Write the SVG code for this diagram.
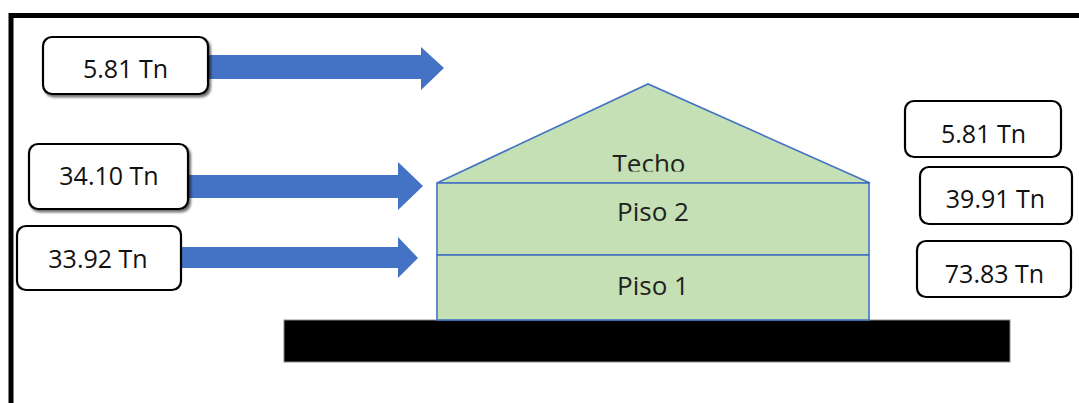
<svg xmlns="http://www.w3.org/2000/svg" width="1079" height="403" viewBox="0 0 1079 403">
  <style>
    .lbl { font-family: "Open Sans", "Noto Sans", sans-serif; font-size: 25px; fill: #111; text-anchor: middle; }
    .floor { font-family: "Open Sans", "Noto Sans", sans-serif; font-size: 26px; fill: #222; text-anchor: middle; }
    .box { fill: #fff; stroke: #000; stroke-width: 2.2; }
    .part { fill: #c5e0b4; stroke: #4472c4; stroke-width: 1.6; }
    .force { fill: #4472c4; }
  </style>
  <defs>
    <filter id="shadow" x="-10%" y="-10%" width="130%" height="140%">
      <feDropShadow dx="2" dy="2.5" stdDeviation="0.8" flood-color="#000" flood-opacity="0.55"/>
    </filter>
    <clipPath id="roofText">
      <rect x="560" y="130" width="180" height="41.5"/>
    </clipPath>
  </defs>

  <rect width="1079" height="403" fill="#fff"/>

  <!-- outer frame -->
  <rect x="11" y="15.5" width="1100" height="420" fill="none" stroke="#000" stroke-width="5"/>

  <!-- foundation -->
  <g id="ground">
    <rect x="284" y="320" width="726" height="42" fill="#000" stroke="#888" stroke-width="1"/>
  </g>

  <!-- building -->
  <g id="techo">
    <polygon class="part" points="437,183 648,84 870,183"/>
    <text class="floor" x="649" y="173" clip-path="url(#roofText)">Techo</text>
  </g>
  <g id="piso2">
    <rect class="part" x="437" y="183" width="432" height="72"/>
    <text class="floor" x="653" y="221">Piso 2</text>
  </g>
  <g id="piso1">
    <rect class="part" x="437" y="255" width="432" height="65"/>
    <text class="floor" x="653" y="295">Piso 1</text>
  </g>

  <!-- lateral force arrows -->
  <g id="connectors">
    <polygon class="force" points="208,55 421,55 421,47 444,68 421,90 421,79 208,79"/>
    <polygon class="force" points="187,175 398,175 398,162 423,186 398,210 398,198 187,198"/>
    <polygon class="force" points="180,247 398,247 398,237 418,258 398,278 398,268 180,268"/>
  </g>

  <!-- applied forces -->
  <g id="f-techo">
    <rect class="box" x="43" y="37" width="165" height="57" rx="9" filter="url(#shadow)"/>
    <text class="lbl" x="125.5" y="78">5.81 Tn</text>
  </g>
  <g id="f-piso2">
    <rect class="box" x="29" y="144" width="159" height="65" rx="9" filter="url(#shadow)"/>
    <text class="lbl" x="109" y="185">34.10 Tn</text>
  </g>
  <g id="f-piso1">
    <rect class="box" x="17" y="226" width="164" height="64" rx="9"/>
    <text class="lbl" x="98" y="268">33.92 Tn</text>
  </g>

  <!-- story shears -->
  <g id="v-techo">
    <rect class="box" x="905" y="101" width="156" height="56" rx="9"/>
    <text class="lbl" x="983.5" y="143">5.81 Tn</text>
  </g>
  <g id="v-piso2">
    <rect class="box" x="920" y="167" width="152" height="57" rx="9"/>
    <text class="lbl" x="995.5" y="208">39.91 Tn</text>
  </g>
  <g id="v-piso1">
    <rect class="box" x="917" y="241" width="154" height="56" rx="9"/>
    <text class="lbl" x="994.5" y="283">73.83 Tn</text>
  </g>
</svg>
